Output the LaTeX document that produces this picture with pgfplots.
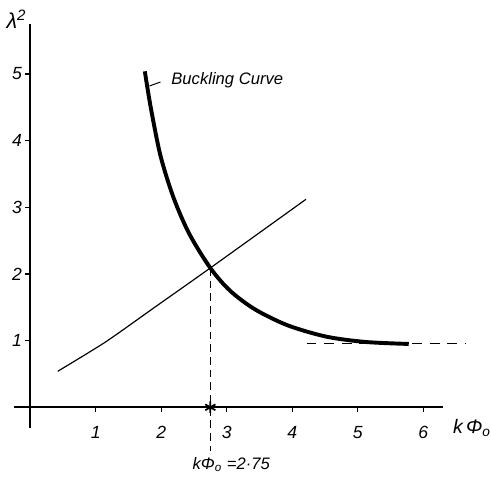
\documentclass[border=0pt]{standalone}
\usepackage{fontspec}
\setmainfont{Liberation Sans}
\usepackage{pgfplots}
\pgfplotsset{compat=1.18}

\begin{document}
\begin{tikzpicture}[font=\itshape]
\begin{axis}[
  x=33.5pt, y=34.1pt,
  axis lines=middle,
  axis line style={-, line width=1pt},
  xmin=-0.25, xmax=6.3, ymin=-0.31, ymax=5.75,
  xtick={1,...,6}, xticklabels={1,2,3,4,5,6},
  ytick={1,...,5}, yticklabels={1,2,3,4,5},
  tick align=outside,
  major tick length=2.5pt,
  tick style={black, line width=0.6pt},
  ticklabel style={font=\itshape\fontsize{9}{10}\selectfont},
  xticklabel style={yshift=-3.5pt},
  yticklabel style={xshift=1.8pt},
  clip=false,
]
% buckling curve
\addplot[black, line width=2pt, smooth] coordinates {
  (1.75,5.04) (1.84,4.50) (1.99,3.77) (2.19,3.14) (2.43,2.60) (2.75,2.09)
  (3.05,1.75) (3.43,1.47) (3.93,1.23) (4.52,1.06) (5.12,0.98) (5.78,0.95)};
% thin line
\addplot[black, line width=0.6pt, smooth, tension=0.4] coordinates {
  (0.42,0.54) (1.15,0.98) (1.90,1.50) (2.75,2.09) (4.21,3.12)};
% dashed guides
\addplot[black, line width=0.5pt, dash pattern=on 5pt off 4pt] coordinates {(4.22,0.95) (6.64,0.95)};
\addplot[black, line width=0.5pt, dash pattern=on 4pt off 2.5pt] coordinates {(2.75,2.09) (2.75,-0.66)};
\addplot[black, only marks, mark=asterisk, mark size=3pt, line width=0.9pt] coordinates {(2.75,0)};
% leader for label
\addplot[black, line width=0.5pt] coordinates {(1.82,4.82) (1.99,4.88)};
\node[anchor=west, font=\itshape\fontsize{8.5}{10}\selectfont] at (axis cs:2.05,4.9) {Buckling Curve};
\node[font=\itshape\fontsize{11}{13}\selectfont] at (axis cs:-0.21,5.82) {λ\textsuperscript{2}};
\node[anchor=west, inner sep=0pt, font=\itshape\fontsize{10}{12}\selectfont] at (axis cs:6.45,-0.31) {k\,Φ\textsubscript{o}};
\node[font=\itshape\fontsize{8.5}{10}\selectfont] at (axis cs:3.07,-0.86) {kΦ\textsubscript{o} =2·75};
\path (axis cs:-0.448,6.11) rectangle (axis cs:6.88,-1.04);
\end{axis}
\end{tikzpicture}
\end{document}
